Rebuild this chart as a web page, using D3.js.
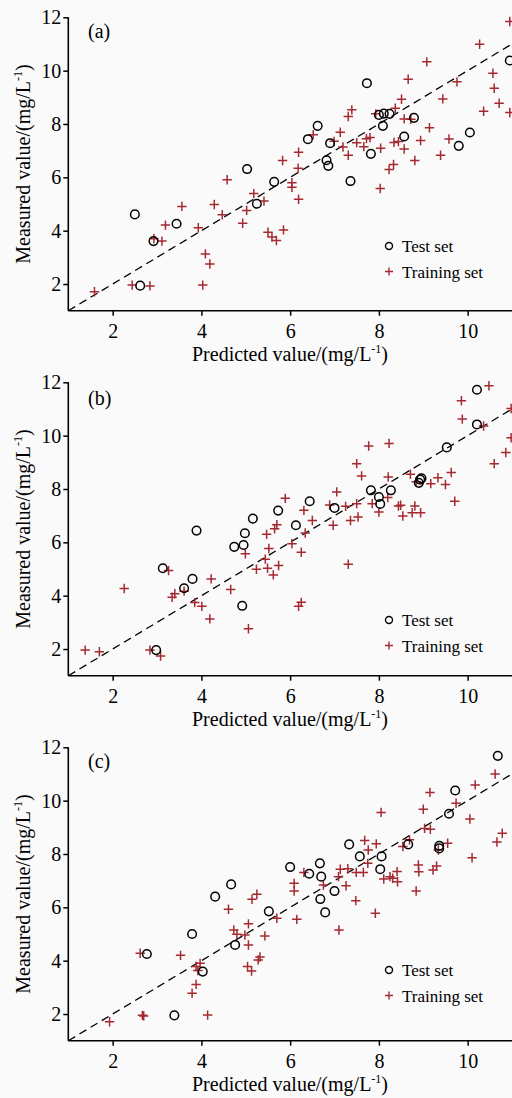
<!DOCTYPE html>
<html>
<head>
<meta charset="utf-8">
<script src="https://cdn.jsdelivr.net/npm/d3@7"></script>
<style>
  body { margin: 0; background: #fafafa; }
  svg { display: block; font-family: "Liberation Serif", "Times New Roman", serif; }
</style>
</head>
<body>
<svg id="fig"></svg>
<script>
const xTicks = [2, 4, 6, 8, 10];
const yTicks = [2, 4, 6, 8, 10, 12];
const panelLabels = ["(a)", "(b)", "(c)"];
const legendLabels = ["Test set", "Training set"];

// [predicted, measured]
const testA = [[2.50,4.61],[2.62,1.94],[2.92,3.61],[3.44,4.26],[5.03,6.31],[5.25,5.01],[5.64,5.83],
  [6.40,7.43],[6.62,7.93],[6.82,6.64],[6.86,6.43],[6.90,7.28],[7.36,5.86],[7.73,9.53],[7.82,6.88],
  [8.00,8.34],[8.11,8.39],[8.09,7.93],[8.24,8.38],[8.57,7.53],[8.79,8.23],[9.80,7.18],[10.05,7.68],[10.95,10.38]];
const trainA = [[1.59,1.71],[2.44,1.96],[2.84,1.93],[2.93,3.70],[3.11,3.61],[3.19,4.21],[3.56,4.91],
  [3.93,4.11],[4.09,3.13],[4.19,2.75],[4.03,1.96],[4.29,4.98],[4.47,4.60],[4.58,5.91],[4.93,4.28],
  [5.02,4.76],[5.18,5.39],[5.41,5.11],[5.50,3.94],[5.59,3.76],[5.69,3.63],[5.85,4.03],[5.83,6.63],
  [6.04,5.80],[6.04,5.63],[6.19,6.94],[6.18,6.34],[6.19,5.18],[6.52,7.60],[6.99,7.35],[7.13,7.69],
  [7.19,7.14],[7.31,8.28],[7.39,8.53],[7.31,6.83],[7.50,7.30],[7.66,7.15],[7.72,7.45],[7.80,7.49],
  [7.93,8.38],[8.04,7.09],[8.03,5.58],[8.23,6.29],[8.33,6.48],[8.34,7.31],[8.44,7.34],[8.37,8.59],
  [8.51,8.93],[8.57,8.19],[8.72,8.18],[8.57,7.06],[8.66,9.68],[8.81,6.63],[8.94,7.38],[9.08,10.33],
  [9.14,7.86],[9.39,6.83],[9.44,8.94],[9.58,7.44],[9.76,9.58],[10.27,10.99],[10.36,8.48],[10.57,9.90],
  [10.60,9.34],[10.71,8.78],[10.95,11.84],[10.95,8.43]];

const testB = [[2.98,1.96],[3.13,5.03],[3.61,4.28],[3.80,4.63],[3.89,6.44],[4.74,5.83],[4.92,3.62],
  [4.95,5.90],[4.98,6.34],[5.16,6.89],[5.73,7.19],[6.13,6.64],[6.44,7.54],[7.00,7.29],[7.82,7.95],
  [8.00,7.70],[8.03,7.44],[8.27,7.95],[8.90,8.23],[8.93,8.35],[8.96,8.40],[9.53,9.56],[10.21,10.42],[10.21,11.72]];
const trainB = [[1.38,1.96],[1.70,1.90],[2.26,4.27],[2.84,1.96],[3.08,1.74],[3.26,4.94],[3.34,3.94],
  [3.40,4.07],[3.61,4.17],[3.85,3.74],[4.01,3.60],[4.19,3.13],[4.22,4.63],[4.66,4.23],[4.99,5.57],
  [5.06,2.76],[5.24,4.99],[5.44,5.37],[5.47,6.30],[5.49,5.03],[5.52,5.77],[5.62,4.78],[5.65,6.51],
  [5.70,6.66],[5.74,5.13],[5.89,7.65],[6.04,5.95],[6.19,3.60],[6.25,3.75],[6.25,5.63],[6.31,7.20],
  [6.34,6.35],[6.50,6.82],[6.89,7.40],[6.97,6.64],[7.05,7.89],[7.25,7.35],[7.31,5.18],[7.36,6.82],
  [7.50,8.95],[7.50,7.45],[7.53,6.95],[7.61,8.49],[7.77,9.61],[7.85,7.45],[8.00,7.14],[8.20,7.68],
  [8.21,8.45],[8.23,9.71],[8.44,7.36],[8.49,7.39],[8.54,6.99],[8.71,8.55],[8.75,7.11],[8.81,7.36],
  [8.84,8.27],[8.94,7.11],[9.17,8.20],[9.33,8.42],[9.50,8.17],[9.63,8.62],[9.71,7.54],[9.86,11.31],
  [9.88,10.62],[10.36,10.36],[10.48,11.87],[10.60,8.95],[10.86,9.37],[10.98,11.02],[10.98,9.92]];

const testC = [[2.77,4.25],[3.39,1.95],[3.79,5.00],[4.03,3.59],[4.31,6.40],[4.67,6.86],[4.76,4.59],
  [5.52,5.85],[6.00,7.51],[6.43,7.26],[6.67,7.65],[6.68,6.31],[6.70,7.15],[6.79,5.81],[7.00,6.61],
  [7.33,8.36],[7.57,7.91],[8.03,7.43],[8.06,7.91],[8.66,8.36],[9.36,8.21],[9.36,8.31],[9.58,9.51],
  [9.72,10.38],[10.68,11.68]];
const trainC = [[1.93,1.71],[2.62,4.28],[2.67,1.95],[2.70,1.93],[3.53,4.20],[3.79,2.78],[3.88,3.11],
  [3.88,3.78],[3.92,3.63],[3.97,3.90],[4.14,1.96],[4.61,5.93],[4.73,5.15],[4.80,4.99],[4.98,4.96],
  [5.06,5.38],[5.06,4.59],[5.04,3.78],[5.13,3.61],[5.14,6.30],[5.25,6.49],[5.28,4.03],[5.32,4.14],
  [5.43,4.93],[5.70,5.59],[6.09,6.90],[6.09,6.61],[6.15,5.55],[6.31,7.31],[6.75,6.84],[7.09,7.15],
  [7.13,7.43],[7.10,5.15],[7.26,6.81],[7.30,7.45],[7.48,6.25],[7.49,7.31],[7.65,7.31],[7.68,8.51],
  [7.75,7.65],[7.76,8.15],[7.92,5.78],[7.94,8.38],[8.05,9.56],[8.11,7.06],[8.25,7.15],[8.31,7.09],
  [8.41,7.34],[8.42,6.96],[8.54,8.28],[8.69,8.53],[8.84,6.61],[8.89,7.59],[8.90,7.33],[9.00,9.68],
  [9.03,8.96],[9.16,8.93],[9.15,10.31],[9.22,7.40],[9.30,7.55],[9.34,8.15],[9.55,8.40],[9.74,9.90],
  [10.05,9.31],[10.10,7.86],[10.17,10.59],[10.62,11.00],[10.66,8.45],[10.78,8.78]];

const W = 512, H = 1098;
const FONT = "'Liberation Serif', 'Times New Roman', serif";
const svg = d3.select("#fig").attr("width", W).attr("height", H);
svg.append("rect").attr("width", W).attr("height", H).attr("fill", "#fafafa");

const RED = "#a52a30";

class ScatterPanel {
  constructor(config, test, train) {
    this.config = config;
    this.test = test;
    this.train = train;
    this.render();
  }

  render() {
    let self = this;
    const c = self.config;
    const g = svg.append("g").attr("transform", `translate(0, ${c.top})`);

    const xscale = d3.scaleLinear().domain([1, 11]).range([68.3, 512]);
    const yscale = d3.scaleLinear().domain([1, 12]).range([293.4, 0]);

    // 1:1 line
    g.append("line")
      .attr("x1", xscale(1)).attr("y1", yscale(1))
      .attr("x2", xscale(11.2)).attr("y2", yscale(11.2))
      .attr("stroke", "#000").attr("stroke-width", 1.3)
      .attr("stroke-dasharray", "8,5");

    const xaxis = d3.axisBottom(xscale).tickValues(xTicks).tickSize(5).tickPadding(8);
    const yaxis = d3.axisLeft(yscale).tickValues(yTicks).tickSize(5).tickPadding(2);

    const xg = g.append("g").attr("transform", `translate(0, ${yscale(1)})`).call(xaxis);
    const yg = g.append("g").attr("transform", `translate(${xscale(1)}, 0)`).call(yaxis);
    [xg, yg].forEach(a => {
      a.attr("font-family", FONT).attr("font-size", 20);
      a.select(".domain").attr("stroke-width", 1.6);
      a.selectAll(".tick line").attr("stroke-width", 1.5);
      a.selectAll("text").attr("fill", "#000");
    });
    xg.select(".domain").attr("d", `M${xscale(1)},0H${W + 5}`);
    yg.select(".domain").attr("d", `M0,${yscale(1)}V${yscale(12)}`);

    // training set: plus signs
    g.selectAll(".train")
      .data(self.train)
      .join("path")
      .attr("class", "train")
      .attr("transform", d => `translate(${xscale(d[0])}, ${yscale(d[1])})`)
      .attr("d", "M-4.7,0H4.7M0,-4.7V4.7")
      .attr("stroke", RED).attr("stroke-width", 1.5).attr("fill", "none");

    // test set: open circles
    g.selectAll(".test")
      .data(self.test)
      .join("circle")
      .attr("class", "test")
      .attr("cx", d => xscale(d[0]))
      .attr("cy", d => yscale(d[1]))
      .attr("r", 4.3)
      .attr("fill", "none").attr("stroke", "#000").attr("stroke-width", 1.5);

    g.append("text")
      .attr("x", 88).attr("y", c.labelY)
      .style("font-size", "20px")
      .text(c.label);

    // legend
    const lg = g.append("g").attr("transform", `translate(389, ${c.legendY})`);
    lg.append("circle").attr("r", 3.5).attr("fill", "none").attr("stroke", "#000").attr("stroke-width", 1.4);
    lg.append("path").attr("d", "M-4,25.5H4M0,21.5V29.5").attr("stroke", RED).attr("stroke-width", 1.4);
    lg.selectAll("text").data(legendLabels).join("text")
      .attr("x", 13).attr("y", (d, i) => i * 25.5 + 6)
      .style("font-size", "17px")
      .text(d => d);

    // axis titles
    const xt = g.append("text")
      .attr("x", 290).attr("y", yscale(1) + 50)
      .attr("text-anchor", "middle")
      .style("font-size", "20px");
    xt.append("tspan").text("Predicted value/(mg/L");
    xt.append("tspan").attr("dy", -8).style("font-size", "12px").text("-1");
    xt.append("tspan").attr("dy", 8).text(")");

    const yt = g.append("text")
      .attr("transform", `translate(30, ${yscale(6.5)}) rotate(-90)`)
      .attr("text-anchor", "middle")
      .style("font-size", "20px");
    yt.append("tspan").text("Measured value/(mg/L");
    yt.append("tspan").attr("dy", -8).style("font-size", "12px").text("-1");
    yt.append("tspan").attr("dy", 8).text(")");
  }
}

new ScatterPanel({ top: 17.3, label: panelLabels[0], labelY: 20.5, legendY: 228.7 }, testA, trainA);
new ScatterPanel({ top: 382.3, label: panelLabels[1], labelY: 23, legendY: 237.7 }, testB, trainB);
new ScatterPanel({ top: 747.3, label: panelLabels[2], labelY: 21, legendY: 222.7 }, testC, trainC);
</script>
</body>
</html>
